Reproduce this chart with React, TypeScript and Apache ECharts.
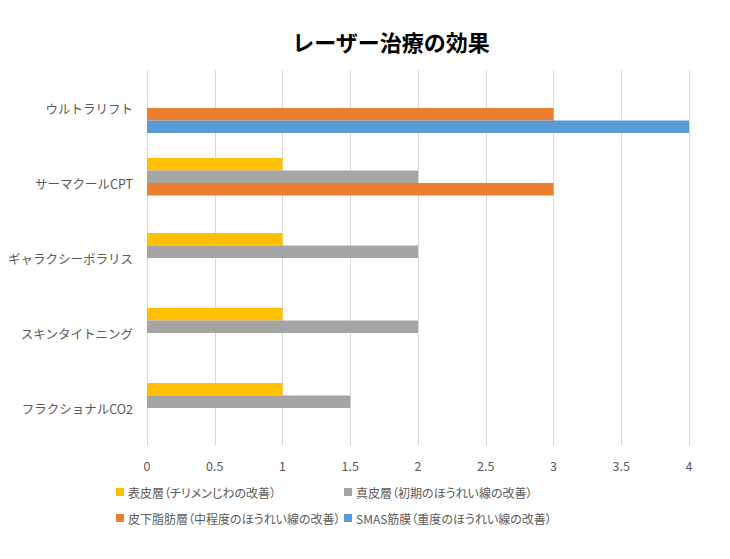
import React, { useEffect, useRef } from "react";
import * as echarts from "echarts";

const title = "レーザー治療の効果";
const categories = ["ウルトラリフト", "サーマクールCPT", "ギャラクシーポラリス", "スキンタイトニング", "フラクショナルCO2"];
const seriesNames = [
  "表皮層（チリメンじわの改善）",
  "真皮層（初期のほうれい線の改善）",
  "皮下脂肪層（中程度のほうれい線の改善）",
  "SMAS筋膜（重度のほうれい線の改善）",
];
const epidermis = [null, 1, 1, 1, 1];
const dermis = [null, 2, 2, 2, 1.5];
const subcutaneous = [3, 3, null, null, null];
const smas = [4, null, null, null, null];
const colors = ["#FFC000", "#A5A5A5", "#ED7D31", "#5B9BD5"];

const FONT = "'Noto Sans CJK JP', 'Noto Sans', sans-serif";
const LEGEND_TEXT = "#5a5a5a";

export default function App() {
  const ref = useRef<HTMLDivElement>(null);
  useEffect(() => {
    if (!ref.current) return;
    const chart = echarts.init(ref.current, undefined, { renderer: "svg" });
    const values = [epidermis, dermis, subcutaneous, smas];
    const legendPos = [
      { left: 116, top: 486 },
      { left: 344, top: 486 },
      { left: 116, top: 512 },
      { left: 344, top: 512 },
    ];
    chart.setOption({
      animation: false,
      textStyle: { fontFamily: FONT },
      title: {
        text: title,
        left: 386,
        textAlign: "center",
        top: 25,
        textStyle: { fontFamily: FONT, fontSize: 22, fontWeight: "bold", color: "#000" },
      },
      legend: seriesNames.map((n, i) => ({
        data: [n],
        left: legendPos[i].left,
        top: legendPos[i].top,
        icon: "rect",
        itemWidth: 8,
        itemHeight: 8,
        itemGap: 4,
        padding: 0,
        selectedMode: false,
        textStyle: { fontFamily: FONT, fontSize: 12, color: LEGEND_TEXT, padding: [0, 0, 0, -1] },
      })),
      grid: { left: 147, right: 41, top: 70.5, bottom: 113.5, containLabel: false },
      xAxis: {
        type: "value",
        min: 0,
        max: 4,
        interval: 0.5,
        axisLine: { show: false },
        axisTick: { show: false },
        axisLabel: { color: "#595959", fontSize: 12.5, fontFamily: FONT, margin: 14 },
        splitLine: { show: true, lineStyle: { color: "#D9D9D9", width: 1 } },
      },
      yAxis: {
        type: "category",
        data: categories,
        inverse: true,
        axisLine: { show: false },
        axisTick: { show: false },
        axisLabel: { color: "#595959", fontSize: 12.5, fontFamily: FONT, margin: 14 },
      },
      series: seriesNames.map((n, i) => ({
        name: n,
        type: "bar",
        data: values[i],
        barGap: "0%",
        barCategoryGap: "33.3%",
        itemStyle: { color: colors[i] },
      })),
    });
    return () => chart.dispose();
  }, []);
  return (
    <>
      <style>{`.chartbox svg text[fill="${LEGEND_TEXT}"], .chartbox svg text[fill="rgb(90,90,90)"] { font-feature-settings: "palt" 1; }`}</style>
      <div ref={ref} className="chartbox" style={{ width: 730, height: 559, position: "absolute", left: 0, top: 0 }} />
    </>
  );
}
